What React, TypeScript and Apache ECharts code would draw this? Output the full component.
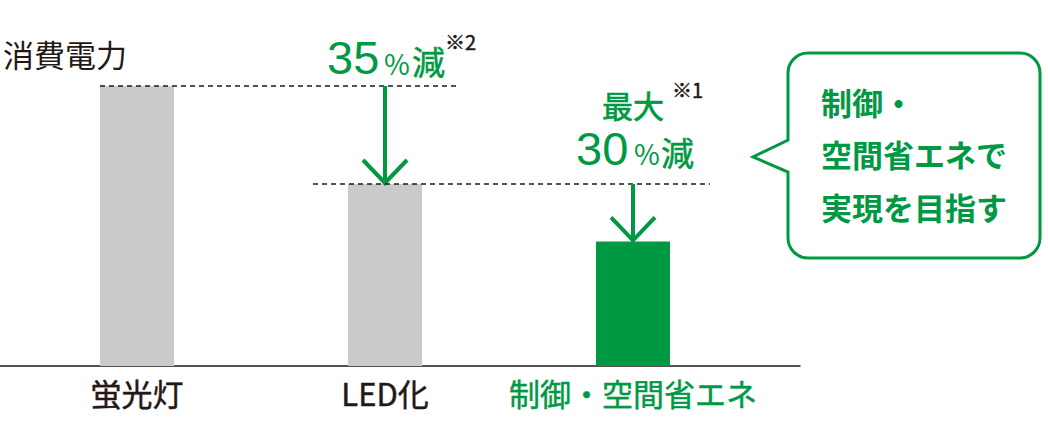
import { useEffect, useRef } from 'react'
import * as echarts from 'echarts'

const categories = ['蛍光灯', 'LED化', '制御・空間省エネ']
const powerValues = [100, 65, 44.5]
const reductionPercents = ['35', '30']
const noteMarks = ['※2', '※1']
const calloutLines = ['制御・', '空間省エネで', '実現を目指す']
const yAxisTitle = '消費電力'

const GREEN = '#009943'
const INK = '#231815'
const GRAY = '#c9caca'
const FONT = '"Noto Sans CJK JP", "Noto Sans", sans-serif'
const DIGITS = '"Liberation Sans", Arial, sans-serif'

// speech bubble with a notch pointing left
const bubblePath =
  'M808,53 H1020 A20,20 0 0 1 1040,73 V238 A20,20 0 0 1 1020,258 H808 A20,20 0 0 1 788,238 V172 L753,157 L788,140 V73 A20,20 0 0 1 808,53 Z'
echarts.graphic.registerShape('bubble', echarts.graphic.extendPath(bubblePath, {}) as any)

// how far the dashed guide lines reach left of the previous bar / right of the arrow
const dashReach = [
  [-37, 74],
  [-72, 77]
]

// "medium" weight is faked with a thin outline in the text colour
const txt = (
  text: string,
  x: number,
  y: number,
  size: number,
  color: string,
  weight: any = 'normal',
  family: string = FONT,
  outline = 0
) => ({
  type: 'text',
  x,
  y,
  style: {
    text,
    fontSize: size,
    lineHeight: Math.round(size * 0.9),
    fontFamily: family,
    fontWeight: weight,
    fill: color,
    stroke: outline ? color : undefined,
    lineWidth: outline,
    align: 'left',
    verticalAlign: 'middle'
  }
})

export default function App() {
  const chartRef = useRef<HTMLDivElement>(null)

  useEffect(() => {
    if (!chartRef.current) return
    document.body.style.margin = '0'

    const chart = echarts.init(chartRef.current, null, { renderer: 'svg' })

    const steps = categories.slice(1).map((_, i) => [i + 1, powerValues[i], powerValues[i + 1]])

    const option = {
      animation: false,
      grid: [
        { left: 13, width: 744, top: 86, bottom: 58 },
        { left: 0, width: 800, top: 86, bottom: 58 }
      ],
      xAxis: [
        {
          type: 'category',
          gridIndex: 0,
          data: categories.map((c, i) =>
            i === categories.length - 1
              ? { value: c, textStyle: { color: GREEN, textBorderColor: GREEN } }
              : c
          ),
          axisLine: { show: false },
          axisTick: { show: false },
          axisLabel: {
            interval: 0,
            margin: 11,
            fontSize: 31,
            lineHeight: 31,
            fontWeight: 'normal',
            fontFamily: FONT,
            color: INK,
            textBorderColor: INK,
            textBorderWidth: 0.45
          }
        },
        {
          type: 'category',
          gridIndex: 1,
          data: [''],
          axisLine: { show: true, lineStyle: { color: INK, width: 1.5 } },
          axisTick: { show: false },
          axisLabel: { show: false }
        }
      ],
      yAxis: [
        { type: 'value', gridIndex: 0, min: 0, max: 100, show: false },
        { type: 'value', gridIndex: 1, min: 0, max: 100, show: false }
      ],
      series: [
        {
          type: 'bar',
          xAxisIndex: 0,
          yAxisIndex: 0,
          barWidth: 74,
          data: powerValues.map((v, i) => ({
            value: v,
            itemStyle: { color: i === powerValues.length - 1 ? GREEN : GRAY }
          }))
        },
        {
          type: 'custom',
          xAxisIndex: 0,
          yAxisIndex: 0,
          clip: false,
          z: 5,
          encode: { x: 0, y: [1, 2] },
          data: steps,
          renderItem: (params: any, api: any) => {
            const cat = api.value(0)
            const from = api.value(1)
            const to = api.value(2)
            const top = api.coord([cat, from])
            const tip = api.coord([cat, to])
            const prev = api.coord([cat - 1, from])
            const reach = dashReach[params.dataIndex]
            const x = top[0]
            return {
              type: 'group',
              children: [
                {
                  type: 'line',
                  shape: { x1: prev[0] + reach[0], y1: top[1], x2: x + reach[1], y2: top[1] },
                  style: { stroke: INK, lineWidth: 1.3, lineDash: [5, 4] }
                },
                {
                  type: 'line',
                  shape: { x1: x, y1: top[1], x2: x, y2: tip[1] - 1 },
                  style: { stroke: GREEN, lineWidth: 4 }
                },
                {
                  type: 'polyline',
                  shape: { points: [[x - 22, tip[1] - 24], [x, tip[1] - 1], [x + 22, tip[1] - 24]] },
                  style: { stroke: GREEN, lineWidth: 4, fill: 'none', lineJoin: 'miter' }
                }
              ]
            }
          }
        }
      ],
      graphic: [
        txt(yAxisTitle, 3, 53, 31, INK),
        // 35%減 ※2
        txt(reductionPercents[0], 327, 57, 47, GREEN, 'normal', DIGITS),
        txt('%', 384, 63, 28, GREEN),
        txt('減', 412, 61, 33, GREEN, 'normal', FONT, 0.5),
        txt(noteMarks[0], 445, 41, 20, INK, 'normal', FONT, 0.5),
        // 最大 30%減 ※1
        txt('最大', 602, 104, 31, GREEN, 'normal', FONT, 0.7),
        txt(noteMarks[1], 672, 89, 20, INK, 'normal', FONT, 0.5),
        txt(reductionPercents[1], 576, 148, 47, GREEN, 'normal', DIGITS),
        txt('%', 634, 153, 28, GREEN),
        txt('減', 661, 152, 33, GREEN, 'normal', FONT, 0.5),
        // callout
        {
          type: 'bubble',
          x: 0,
          y: 0,
          scaleX: 1,
          scaleY: 1,
          style: { fill: '#fff', stroke: GREEN, lineWidth: 3 }
        },
        ...calloutLines.map((line, i) => txt(line, 821, 101 + i * 52.5, 31, GREEN, 'bold'))
      ]
    }

    chart.setOption(option as any)

    const handleResize = () => chart.resize()
    window.addEventListener('resize', handleResize)

    return () => {
      window.removeEventListener('resize', handleResize)
      chart.dispose()
    }
  }, [])

  return <div ref={chartRef} style={{ width: '1048px', height: '424px' }} />
}
